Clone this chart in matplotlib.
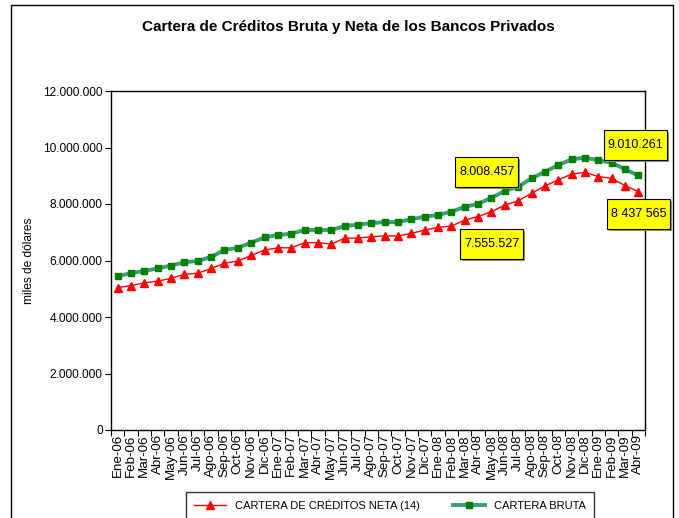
import matplotlib
matplotlib.use("Agg")
import matplotlib.pyplot as plt
from matplotlib.patches import Rectangle
from matplotlib.ticker import FuncFormatter, FixedLocator
import numpy as np

plt.rcParams['font.family'] = ['Liberation Sans', 'DejaVu Sans']

# --- datos (miles de dólares) ---
meses = ['Ene-06', 'Feb-06', 'Mar-06', 'Abr-06', 'May-06', 'Jun-06', 'Jul-06', 'Ago-06',
         'Sep-06', 'Oct-06', 'Nov-06', 'Dic-06', 'Ene-07', 'Feb-07', 'Mar-07', 'Abr-07',
         'May-07', 'Jun-07', 'Jul-07', 'Ago-07', 'Sep-07', 'Oct-07', 'Nov-07', 'Dic-07',
         'Ene-08', 'Feb-08', 'Mar-08', 'Abr-08', 'May-08', 'Jun-08', 'Jul-08', 'Ago-08',
         'Sep-08', 'Oct-08', 'Nov-08', 'Dic-08', 'Ene-09', 'Feb-09', 'Mar-09', 'Abr-09']

cartera_neta = [5040000, 5110000, 5210000, 5270000, 5370000, 5510000, 5550000, 5720000,
                5900000, 5980000, 6180000, 6370000, 6450000, 6450000, 6630000, 6630000,
                6580000, 6790000, 6790000, 6840000, 6870000, 6870000, 6960000, 7080000,
                7170000, 7220000, 7430000, 7555527, 7730000, 7960000, 8110000, 8380000,
                8640000, 8850000, 9060000, 9120000, 8970000, 8910000, 8650000, 8437565]

cartera_bruta = [5450000, 5550000, 5630000, 5720000, 5820000, 5940000, 5980000, 6130000,
                 6370000, 6450000, 6630000, 6820000, 6900000, 6950000, 7080000, 7080000,
                 7080000, 7220000, 7270000, 7320000, 7360000, 7360000, 7460000, 7550000,
                 7610000, 7730000, 7900000, 8008457, 8220000, 8460000, 8610000, 8910000,
                 9140000, 9380000, 9580000, 9640000, 9550000, 9460000, 9230000, 9010261]

# etiquetas de datos: (texto, x, y)
etiquetas = [('8.008.457', 27.65, 9130000),
             ('7.555.527', 28.0, 6580000),
             ('9.010.261', 38.8, 10100000),
             ('8 437 565', 39.0, 7650000)]

W, H = 679, 518
fig = plt.figure(figsize=(W / 100, H / 100), dpi=100)
ax = fig.add_axes([111 / W, 1 - 430 / H, (645 - 111) / W, (430 - 91) / H])

x = np.arange(len(meses))
ax.plot(x, cartera_neta, color='red', lw=1, marker='^', ms=6, mfc='red', mec='red',
        label='CARTERA DE CRÉDITOS NETA (14)', zorder=3)
ax.plot(x, cartera_bruta, color='#3a9e76', lw=2.8, marker='s', ms=5, mfc='#008000',
        mec='#008000', label='CARTERA BRUTA', zorder=3)

ax.set_xlim(-0.5, len(meses) - 0.5)
ax.set_ylim(0, 12000000)
ax.set_yticks(np.arange(0, 12000001, 2000000))
ax.yaxis.set_major_formatter(FuncFormatter(lambda v, p: f"{int(v):,}".replace(',', '.')))
ax.tick_params(axis='y', labelsize=8.6, length=4, width=0.8, direction='out', pad=2)

ax.set_xticks(x)
ax.set_xticklabels(meses, rotation=90, fontsize=9.6)
ax.tick_params(axis='x', length=0, pad=3)
ax.xaxis.set_minor_locator(FixedLocator(np.arange(-0.5, len(meses), 1)))
ax.tick_params(axis='x', which='minor', length=4, width=0.8, direction='out')

for s in ax.spines.values():
    s.set_linewidth(1)
    s.set_color('black')

ax.set_ylabel('miles de dólares', fontsize=8.6, labelpad=6)

# cajas amarillas de las etiquetas (tamaño fijo en píxeles, como en Excel)
bw, bh = 63, 30
for txt, xx, yy in etiquetas:
    px, py = ax.transData.transform((xx, yy))
    fig.patches.append(Rectangle((px - bw / 2 + 2, py - bh / 2 - 2), bw, bh, fc='#909090',
                                 ec='none', transform=None, figure=fig, zorder=4))
    fig.patches.append(Rectangle((px - bw / 2, py - bh / 2), bw, bh, fc='#ffff00',
                                 ec='black', lw=0.8, transform=None, figure=fig, zorder=4))
    fig.text(px / W, py / H, txt, ha='center', va='center', fontsize=9, zorder=5)

fig.text(348 / W, 1 - 27 / H, 'Cartera de Créditos Bruta y Neta de los Bancos Privados',
         ha='center', va='center', fontsize=11, fontweight='bold')

# marco del área del gráfico
fig.patches.append(Rectangle((11 / W, -0.1), (673 - 11) / W, 1.1 - 5 / H, fill=False,
                             ec='black', lw=1, transform=fig.transFigure, figure=fig))

leg = fig.legend(loc='upper left', bbox_to_anchor=(186 / W, 1 - 492 / H), ncol=2,
                 frameon=True, fancybox=False, edgecolor='black', fontsize=8,
                 handlelength=2.9, columnspacing=3.0, borderpad=0.7, borderaxespad=0)
leg.get_frame().set_linewidth(1)

fig.savefig('out.png', dpi=100)
